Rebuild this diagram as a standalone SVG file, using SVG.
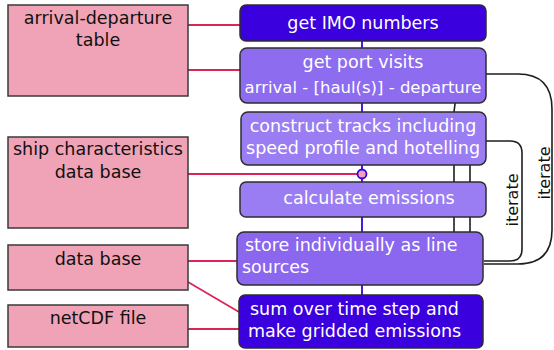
<svg xmlns="http://www.w3.org/2000/svg" width="554" height="350" viewBox="0 0 554 350">
  <style>
    .src rect { fill: #f0a3b6; stroke: #3a3a3a; stroke-width: 1.5; }
    .src text { fill: #111; font-family: "DejaVu Sans", sans-serif; font-size: 17.5px; text-anchor: middle; }
    .step rect { stroke: #2e2e2e; stroke-width: 1.5; }
    .step text { fill: #fff; font-family: "DejaVu Sans", sans-serif; font-size: 17.5px; }
    .mid { text-anchor: middle; }
    .dark { fill: #3a00dd; }
    .p1 { fill: #8d6cf0; }
    .p2 { fill: #9a7df2; }
    .p3 { fill: #8b66ee; }
    .flow { stroke: #3a00dd; stroke-width: 1.8; fill: none; }
    .feed { stroke: #dc2458; stroke-width: 1.8; fill: none; }
    .loop { stroke: #1e1e1e; stroke-width: 1.6; fill: none; }
    .lbl { fill: #111; font-family: "DejaVu Sans", sans-serif; font-size: 16px; text-anchor: middle; }
  </style>

  <!-- connectors, drawn beneath the boxes -->
  <g id="connectors">
    <!-- iteration loops -->
    <path class="loop" d="M455.5,100 L454,112 M454,160 L454,235 M470,160 L470,235"/>
    <path class="loop" d="M484,141 H510 Q522,141 522,153 V249 Q522,261 510,261 H484"/>
    <path class="loop" d="M484,74 H518 Q552,74 552,109 V230 Q552,264 518,264 H484"/>
    <text class="lbl" transform="translate(518,200) rotate(-90)">iterate</text>
    <text class="lbl" transform="translate(550,173) rotate(-90)">iterate</text>

    <!-- main flow -->
    <path class="flow" d="M362,41 V232 M362,285 V296"/>

    <!-- data feeds -->
    <path class="feed" d="M188,25 H240"/>
    <path class="feed" d="M188,70 H240"/>
    <path class="feed" d="M188,174 H358"/>
    <path class="feed" d="M188,261 H237"/>
    <path class="feed" d="M188,282 L239,312"/>
    <path class="feed" d="M188,329 H239"/>
  </g>

  <!-- data sources -->
  <g id="arrival-departure" class="src">
    <rect x="8" y="5" width="180" height="91"/>
    <text x="98" y="24">arrival-departure</text>
    <text x="98" y="46">table</text>
  </g>
  <g id="ship-characteristics" class="src">
    <rect x="8" y="137" width="180" height="91"/>
    <text x="98" y="155">ship characteristics</text>
    <text x="98" y="178">data base</text>
  </g>
  <g id="data-base" class="src">
    <rect x="8" y="245" width="180" height="45"/>
    <text x="98" y="265">data base</text>
  </g>
  <g id="netcdf" class="src">
    <rect x="8" y="305" width="180" height="42"/>
    <text x="98" y="324">netCDF file</text>
  </g>

  <!-- processing steps -->
  <g id="imo" class="step">
    <rect class="dark" x="240" y="5" width="246" height="36" rx="6"/>
    <text class="mid" x="363" y="29">get IMO numbers</text>
  </g>
  <g id="port-visits" class="step">
    <rect class="p1" x="240" y="48" width="246" height="55" rx="7"/>
    <text class="mid" x="363" y="68">get port visits</text>
    <text class="mid" x="363" y="93" style="font-size:16.5px">arrival - [haul(s)] - departure</text>
  </g>
  <g id="tracks" class="step">
    <rect class="p2" x="241" y="112" width="245" height="53" rx="7"/>
    <text class="mid" x="363" y="132">construct tracks including</text>
    <text class="mid" x="363" y="154">speed profile and hotelling</text>
  </g>
  <g id="junction">
    <circle cx="362" cy="174" r="4.5" fill="#f0a3b6" stroke="#3a00dd" stroke-width="1.8"/>
  </g>
  <g id="emissions" class="step">
    <rect class="p2" x="240" y="182" width="246" height="35" rx="6"/>
    <text class="mid" x="369" y="204">calculate emissions</text>
  </g>
  <g id="store" class="step">
    <rect class="p3" x="237" y="232" width="246" height="53" rx="7"/>
    <text x="245" y="251">store individually as line</text>
    <text x="242" y="273">sources</text>
  </g>
  <g id="grid" class="step">
    <rect class="dark" x="239" y="295" width="244" height="53" rx="6"/>
    <text x="250" y="315">sum over time step and</text>
    <text x="248" y="337">make gridded emissions</text>
  </g>
</svg>
